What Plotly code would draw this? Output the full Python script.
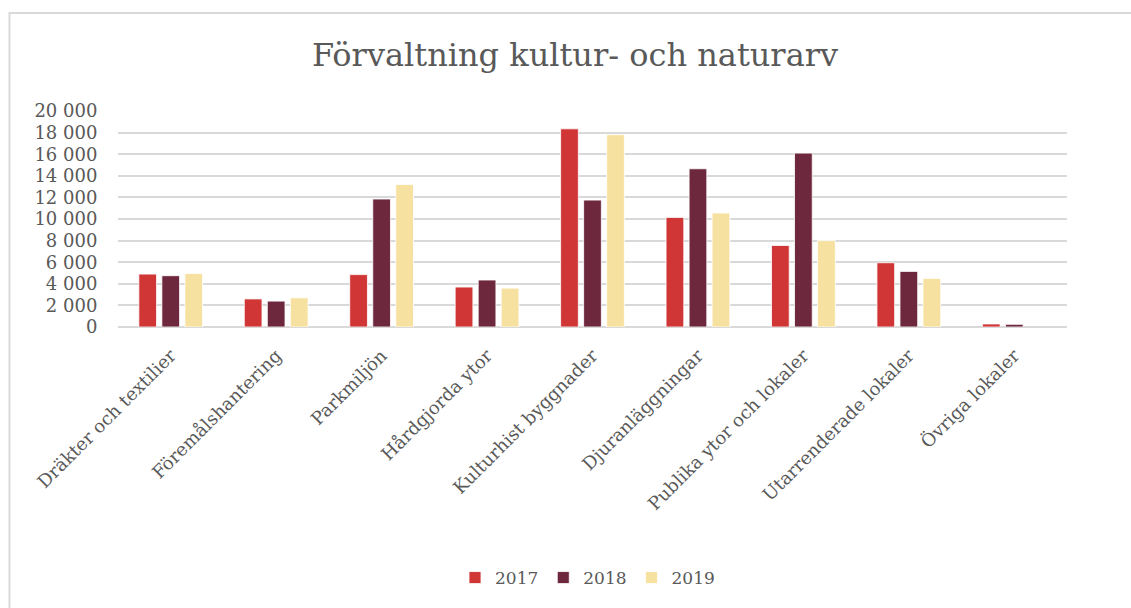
import plotly.graph_objects as go

categories = ["Dräkter och textilier", "Föremålshantering", "Parkmiljön", "Hårdgjorda ytor",
              "Kulturhist byggnader", "Djuranläggningar", "Publika ytor och lokaler",
              "Utarrenderade lokaler", "Övriga lokaler"]
v2017 = [4900, 2600, 4850, 3700, 18350, 10150, 7550, 5950, 280]
v2018 = [4750, 2400, 11850, 4350, 11750, 14650, 16100, 5150, 250]
v2019 = [4950, 2700, 13200, 3600, 17800, 10550, 8000, 4500, None]
series_names = ["2017", "2018", "2019"]
colors = ["#D13636", "#6E283D", "#F7E1A1"]

FONT = "DejaVu Serif"
TXT = "#595959"

fig = go.Figure()
for name, vals, col in zip(series_names, [v2017, v2018, v2019], colors):
    fig.add_trace(go.Bar(x=categories, y=vals, name=name,
                         marker=dict(color=col, line=dict(color="white", width=0.8))))

W, H = 1131, 608
ml, mr, mt, mb = 118, 64, 111, 281
pw, ph = W - ml - mr, H - mt - mb

def px2paper_x(px):
    return (px - ml) / pw

def px2paper_y(py):
    return (H - mb - py) / ph

fig.update_layout(
    width=W, height=H,
    margin=dict(l=ml, r=mr, t=mt, b=mb),
    paper_bgcolor="white", plot_bgcolor="white",
    separators=", ",
    barmode="group", bargap=0.345, bargroupgap=0.23,
    font=dict(family=FONT, color=TXT),
    title=dict(text="Förvaltning kultur- och naturarv", x=575 / W, xref="container",
               xanchor="center", y=1 - 55 / H, yref="container", yanchor="middle",
               font=dict(family=FONT, size=32, color=TXT)),
    xaxis=dict(tickangle=-45, tickfont=dict(size=18, color=TXT, family=FONT),
               showgrid=False, showline=False, ticks="outside", ticklen=10,
               tickcolor="rgba(0,0,0,0)"),
    yaxis=dict(range=[0, 20000], dtick=2000, tickformat=",d",
               tickfont=dict(size=18, color=TXT, family=FONT),
               showgrid=True, gridcolor="#D9D9D9", gridwidth=1.5,
               zeroline=True, zerolinecolor="#D9D9D9", zerolinewidth=1.5,
               showline=False, ticks="outside", ticklen=16, tickcolor="rgba(0,0,0,0)"),
    legend=dict(orientation="h", x=px2paper_x(455), xanchor="left", y=px2paper_y(578), yanchor="middle",
                font=dict(size=17, color=TXT, family=FONT), itemwidth=30,
                traceorder="normal"),
    shapes=[dict(type="rect", xref="paper", yref="paper",
                 x0=px2paper_x(9.5), x1=px2paper_x(1140), y0=px2paper_y(620), y1=px2paper_y(13),
                 line=dict(color="#D9D9D9", width=2), fillcolor="rgba(0,0,0,0)", layer="below")],
)

fig.write_html("out.html", config={"displayModeBar": False},
               post_script="document.body.style.margin='0px';document.body.style.overflow='hidden';")
